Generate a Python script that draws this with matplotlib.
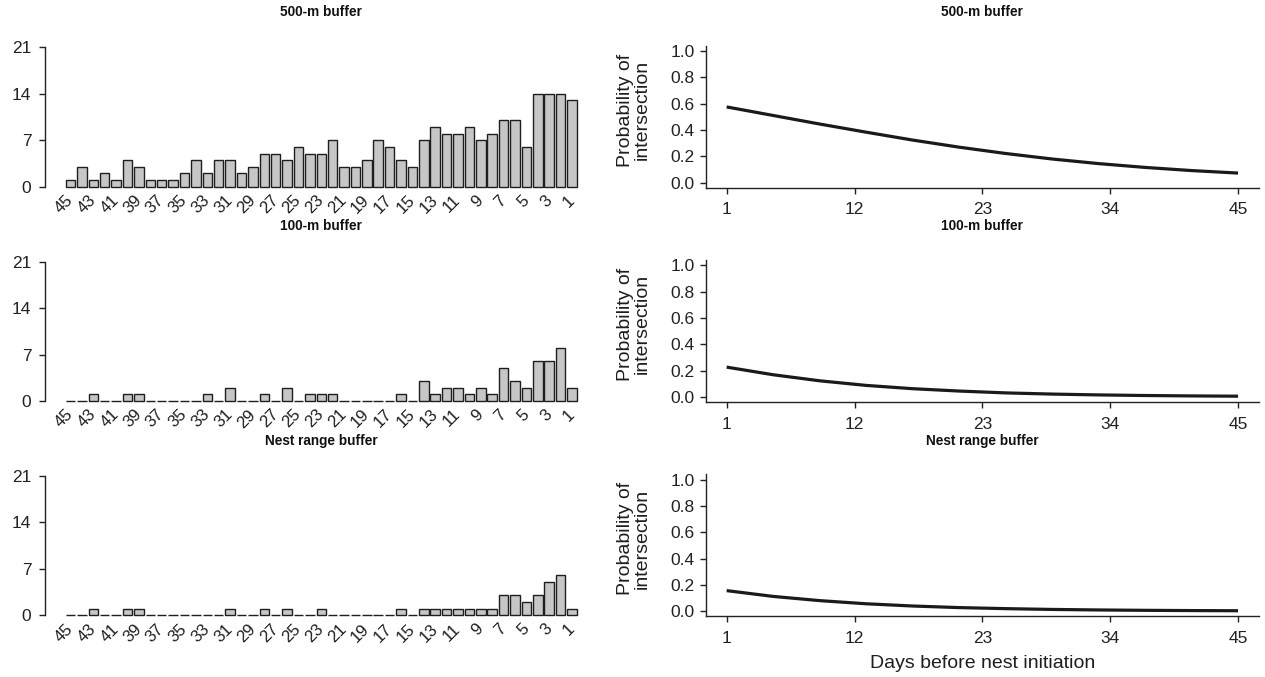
import matplotlib
matplotlib.use("Agg")
import matplotlib.pyplot as plt
import matplotlib.transforms as mtransforms
import numpy as np

plt.rcParams['font.family'] = ['Liberation Sans', 'DejaVu Sans']

# ---------------- data ----------------
days = list(range(45, 0, -1))  # 45 ... 1 (bar order left to right)

counts_500m = [1, 3, 1, 2, 1, 4, 3, 1, 1, 1, 2, 4, 2, 4, 4, 2, 3, 5, 5, 4, 6, 5, 5,
               7, 3, 3, 4, 7, 6, 4, 3, 7, 9, 8, 8, 9, 7, 8, 10, 10, 6, 14, 14, 14, 13]
counts_100m = [0, 0, 1, 0, 0, 1, 1, 0, 0, 0, 0, 0, 1, 0, 2, 0, 0, 1, 0, 2, 0, 1, 1,
               1, 0, 0, 0, 0, 0, 1, 0, 3, 1, 2, 2, 1, 2, 1, 5, 3, 2, 6, 6, 8, 2]
counts_nest = [0, 0, 1, 0, 0, 1, 1, 0, 0, 0, 0, 0, 0, 0, 1, 0, 0, 1, 0, 1, 0, 0, 1,
               0, 0, 0, 0, 0, 0, 1, 0, 1, 1, 1, 1, 1, 1, 1, 3, 3, 2, 3, 5, 6, 1]

curve_days = [1, 5, 9, 13, 17, 21, 25, 29, 33, 37, 41, 45]
prob_500m = [0.575, 0.510, 0.445, 0.383, 0.323, 0.269, 0.221, 0.179, 0.144, 0.115, 0.091, 0.072]
prob_100m = [0.226, 0.168, 0.122, 0.087, 0.062, 0.044, 0.030, 0.021, 0.0146, 0.0101, 0.0070, 0.0049]
prob_nest = [0.156, 0.112, 0.080, 0.056, 0.039, 0.027, 0.019, 0.013, 0.009, 0.0062, 0.0043, 0.0030]

titles = ["500-m buffer", "100-m buffer", "Nest range buffer"]
bar_yticks = [0, 7, 14, 21]
line_xticks = [1, 12, 23, 34, 45]
line_yticks = [0.0, 0.2, 0.4, 0.6, 0.8, 1.0]

# ---------------- figure ----------------
W, H = 1265, 677
fig = plt.figure(figsize=(W / 100, H / 100), dpi=100)


def add_ax(l, t, r, b):
    return fig.add_axes([l / W, 1 - b / H, (r - l) / W, (b - t) / H])


row_step = 214.3
spine_col = '#222222'
txt_col = '#1e1e1e'
bar_series = [counts_500m, counts_100m, counts_nest]
line_series = [prob_500m, prob_100m, prob_nest]
TICK_FS = 12.5
LAB_FS = 14
TITLE_FS = 9.8

xpos = [0.7 + 1.2 * i for i in range(len(days))]
label_shift = mtransforms.ScaledTranslation(4 / 100, 0, fig.dpi_scale_trans)

for k in range(3):
    # ---- bar panel ----
    zero_y = 186.7 + k * row_step
    top_y = zero_y - 21 * 6.64
    ax = add_ax(45.3, top_y, 597.2, zero_y)
    ax.bar(xpos, bar_series[k], width=1.0, color='#c6c6c6', edgecolor='#1e1e1e',
           linewidth=1.0, clip_on=False)
    ax.set_xlim(-1.952, 56.152)
    ax.set_ylim(0, 21)
    ax.set_yticks(bar_yticks)
    ax.set_yticklabels([str(v) for v in bar_yticks], fontsize=TICK_FS, color=txt_col)
    for s in ['top', 'right', 'bottom']:
        ax.spines[s].set_visible(False)
    ax.spines['left'].set_color(spine_col)
    ax.spines['left'].set_linewidth(1.0)
    ax.tick_params(axis='y', length=4, width=1.0, pad=6, colors=spine_col)
    odd_idx = [i for i, d in enumerate(days) if d % 2 == 1]
    ax.set_xticks([xpos[i] for i in odd_idx])
    ax.set_xticklabels([str(days[i]) for i in odd_idx], rotation=45, ha='right',
                       va='center', rotation_mode='anchor', fontsize=12, color=txt_col)
    for lab in ax.get_xticklabels():
        lab.set_transform(lab.get_transform() + label_shift)
    ax.tick_params(axis='x', length=0, pad=8)
    fig.text((45.3 + 597.2) / 2 / W, 1 - (12 + k * row_step) / H, titles[k],
             ha='center', va='center', fontsize=TITLE_FS, fontweight='bold', color='#111111')

    # ---- line panel ----
    bot_y = 187.8 + k * row_step
    top_y2 = bot_y - 1.08 * 131.5
    ax2 = add_ax(706.2, top_y2, 1258.5, bot_y)
    ax2.plot(curve_days, line_series[k], color='#1a1a1a', linewidth=2.3,
             solid_capstyle='butt')
    ax2.set_xlim(-0.76, 46.76)
    ax2.set_ylim(-0.04, 1.04)
    ax2.set_xticks(line_xticks)
    ax2.set_xticklabels([str(v) for v in line_xticks], fontsize=TICK_FS, color=txt_col)
    ax2.set_yticks(line_yticks)
    ax2.set_yticklabels([f"{v:.1f}" for v in line_yticks], fontsize=TICK_FS, color=txt_col)
    for s in ['top', 'right']:
        ax2.spines[s].set_visible(False)
    for s in ['left', 'bottom']:
        ax2.spines[s].set_color(spine_col)
        ax2.spines[s].set_linewidth(1.0)
    ax2.tick_params(axis='y', length=4.5, width=1.0, pad=4, colors=spine_col)
    ax2.tick_params(axis='x', length=4.5, width=1.0, pad=6, colors=spine_col)
    fig.text(634 / W, 1 - (110 + k * row_step) / H, "Probability of\nintersection",
             rotation=90, ha='center', va='center', fontsize=LAB_FS, color=txt_col,
             linespacing=1.0)
    fig.text((706.2 + 1258.5) / 2 / W, 1 - (12 + k * row_step) / H, titles[k],
             ha='center', va='center', fontsize=TITLE_FS, fontweight='bold', color='#111111')

fig.text((706.2 + 1258.5) / 2 / W, 1 - 663 / H, "Days before nest initiation",
         ha='center', va='center', fontsize=LAB_FS, color=txt_col)

fig.savefig("out.png", dpi=100)
